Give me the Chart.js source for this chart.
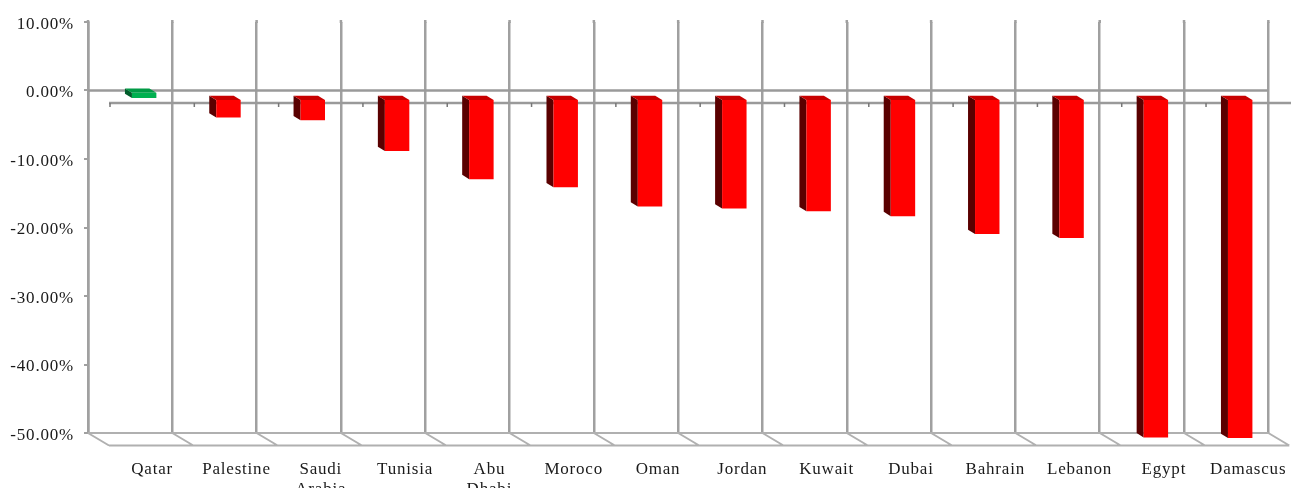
<!DOCTYPE html>
<html>
<head>
<meta charset="utf-8">
<script src="https://cdn.jsdelivr.net/npm/chart.js@4.4.1/dist/chart.umd.min.js"></script>
<style>
  html, body { margin: 0; padding: 0; background: #ffffff; }
  #wrap { width: 1291px; height: 488px; }
</style>
</head>
<body>
<div id="wrap"><canvas id="c" width="1291" height="488"></canvas></div>
<script>
// Percentage change by city / country
const categories = [
  'Qatar', 'Palestine', ['Saudi', 'Arabia'], 'Tunisia', ['Abu', 'Dhabi'], 'Moroco',
  'Oman', 'Jordan', 'Kuwait', 'Dubai', 'Bahrain', 'Lebanon', 'Egypt', 'Damascus'
];
const changePct = [0.9, -2.7, -3.1, -7.6, -11.7, -12.9, -15.7, -16.0, -16.4, -17.1, -19.7, -20.3, -49.4, -49.5];
const yTicks = [10, 0, -10, -20, -30, -40, -50];

// Colours for the three visible faces of each column
const POS = { front: '#00B050', side: '#005c2a', top: '#009a45' };
const NEG = { front: '#FF0000', side: '#5a0000', top: '#c80000' };

const FONT = { family: '"Liberation Serif", "Times New Roman", serif', size: 17 };
const GRID = '#a0a0a0';

// Depth geometry: back wall -> front edge of floor, and column front / depth
const FLOOR_DX = 21, FLOOR_DY = 12.5;
const BAR_DX = 14, BAR_DY = 8.5;
const DEPTH_DX = -7, DEPTH_DY = -4.3;

function setSpacing(chart) { chart.ctx.letterSpacing = '0.8px'; }

const wall3d = {
  id: 'wall3d',
  afterInit: setSpacing,
  beforeLayout: setSpacing,
  beforeDraw: setSpacing,
  beforeDatasetsDraw(chart) {
    const { ctx, chartArea: a, scales: { x, y } } = chart;
    const y0 = y.getPixelForValue(0);
    const yB = y.getPixelForValue(yTicks[yTicks.length - 1]);
    const n = categories.length;
    const step = (a.right - a.left) / n;
    const bounds = [];
    for (let k = 0; k <= n; k++) bounds.push(a.left + k * step);

    ctx.save();
    ctx.lineCap = 'butt';
    // back wall verticals reach slightly above the top tick
    ctx.strokeStyle = GRID;
    ctx.lineWidth = 2.5;
    ctx.beginPath();
    bounds.forEach(bx => { ctx.moveTo(bx, a.top - 2); ctx.lineTo(bx, a.top + 1); });
    ctx.stroke();

    // floor
    ctx.strokeStyle = '#b0b0b0';
    ctx.lineWidth = 2;
    ctx.beginPath();
    ctx.moveTo(a.left, yB); ctx.lineTo(a.right, yB);
    ctx.moveTo(a.left + FLOOR_DX, yB + FLOOR_DY); ctx.lineTo(a.right + FLOOR_DX, yB + FLOOR_DY);
    bounds.forEach(bx => { ctx.moveTo(bx, yB); ctx.lineTo(bx + FLOOR_DX, yB + FLOOR_DY); });
    ctx.stroke();

    // zero plane: back and front edges
    ctx.strokeStyle = '#9a9a9a';
    ctx.lineWidth = 2.5;
    ctx.beginPath();
    ctx.moveTo(a.left, y0); ctx.lineTo(a.right, y0);
    ctx.moveTo(a.left + FLOOR_DX, y0 + FLOOR_DY); ctx.lineTo(chart.width, y0 + FLOOR_DY);
    ctx.stroke();

    // category marks on the front edge
    ctx.strokeStyle = '#777';
    ctx.lineWidth = 1.5;
    ctx.beginPath();
    bounds.slice(0, n).forEach(bx => {
      ctx.moveTo(bx + FLOOR_DX + 1, y0 + FLOOR_DY);
      ctx.lineTo(bx + FLOOR_DX + 1, y0 + FLOOR_DY + 4);
    });
    ctx.stroke();
    ctx.restore();

    // columns sit partway into the depth
    ctx.save();
    ctx.translate(BAR_DX, BAR_DY);
    const meta = chart.getDatasetMeta(0);
    meta.data.forEach((bar, i) => {
      const p = bar.getProps(['x', 'y', 'base', 'width'], true);
      const L = p.x - p.width / 2, R = p.x + p.width / 2;
      const T = Math.min(p.y, p.base), B = Math.max(p.y, p.base);
      const c = changePct[i] >= 0 ? POS : NEG;
      ctx.fillStyle = c.side;
      ctx.beginPath();
      ctx.moveTo(L, T); ctx.lineTo(L + DEPTH_DX, T + DEPTH_DY);
      ctx.lineTo(L + DEPTH_DX, B + DEPTH_DY); ctx.lineTo(L, B);
      ctx.closePath(); ctx.fill();
      ctx.fillStyle = c.top;
      ctx.beginPath();
      ctx.moveTo(L, T); ctx.lineTo(R, T);
      ctx.lineTo(R + DEPTH_DX, T + DEPTH_DY); ctx.lineTo(L + DEPTH_DX, T + DEPTH_DY);
      ctx.closePath(); ctx.fill();
    });
  },
  afterDatasetsDraw(chart) {
    chart.ctx.restore();
  }
};

new Chart(document.getElementById('c'), {
  type: 'bar',
  data: {
    labels: categories,
    datasets: [{
      data: changePct,
      backgroundColor: changePct.map(v => v >= 0 ? POS.front : NEG.front),
      borderWidth: 0,
      barPercentage: 0.29,
      categoryPercentage: 1,
      clip: false
    }]
  },
  options: {
    responsive: false,
    animation: false,
    events: [],
    layout: { padding: { top: 22, right: 19, left: 0, bottom: 0 } },
    plugins: { legend: { display: false }, tooltip: { enabled: false } },
    scales: {
      x: {
        afterFit(s) { s.height = 55; },
        grid: { color: GRID, lineWidth: 2.5, drawTicks: false, offset: true },
        border: { display: false },
        ticks: {
          font: FONT, color: '#1a1a1a', padding: 26, labelOffset: 22,
          maxRotation: 0, autoSkip: false
        }
      },
      y: {
        min: -50, max: 10,
        afterFit(s) { s.width = 88; },
        afterBuildTicks(s) { s.ticks = yTicks.map(v => ({ value: v })); },
        grid: { drawOnChartArea: false, drawTicks: true, tickLength: 4, color: GRID, lineWidth: 2 },
        border: { display: true, color: GRID, width: 2.5 },
        ticks: {
          font: FONT, color: '#1a1a1a', padding: 10, labelOffset: 2.5,
          callback: v => v.toFixed(2) + '%'
        }
      }
    }
  },
  plugins: [wall3d]
});
</script>
</body>
</html>
